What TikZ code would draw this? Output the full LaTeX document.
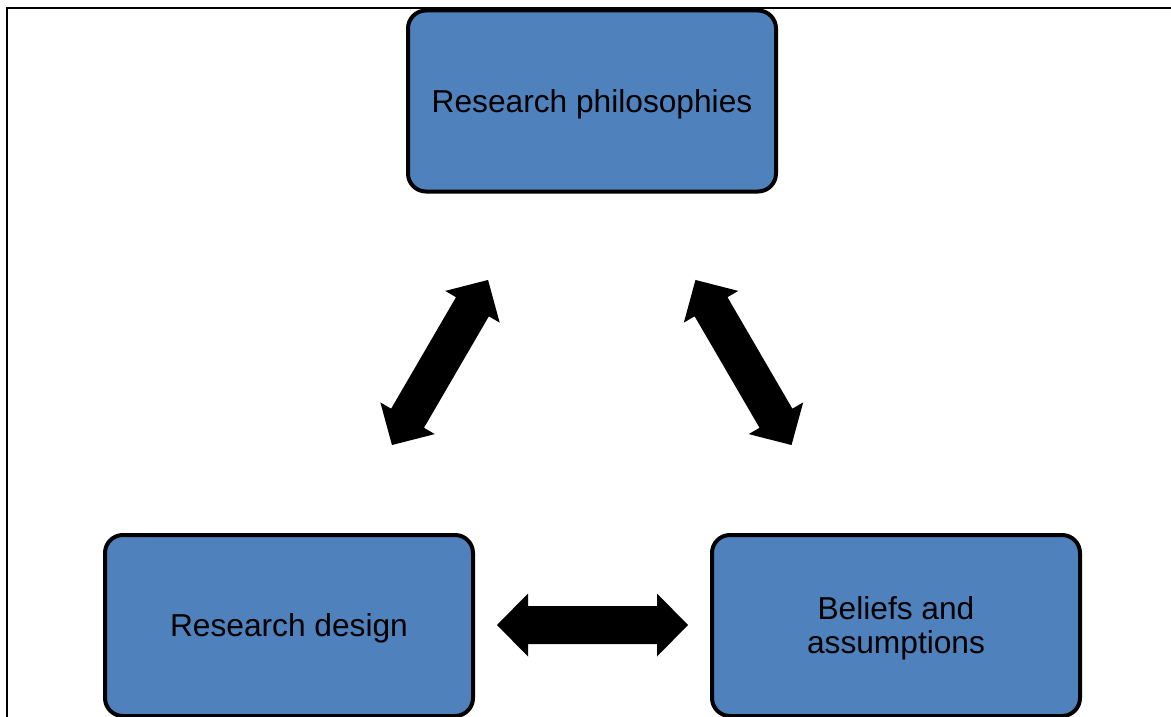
\documentclass[tikz,border=0pt]{standalone}
\usepackage{fontspec}
\setmainfont{Liberation Sans}
\definecolor{boxblue}{RGB}{79,129,189}
\tikzset{
  topicbox/.style={draw=black, line width=4pt, fill=boxblue, rounded corners=18pt,
    minimum width=368pt, minimum height=181pt, inner sep=0pt, align=center,
    text depth=0pt, font=\fontsize{31.7}{34}\selectfont},
  dblarrow/.pic={
    \fill[black] (-95.5,0) -- (-64.5,31.5) -- (-64.5,19) -- (64.5,19) -- (64.5,31.5)
      -- (95.5,0) -- (64.5,-31.5) -- (64.5,-19) -- (-64.5,-19) -- (-64.5,-31.5) -- cycle;
  }
}
\begin{document}
\begin{tikzpicture}[x=1pt,y=1pt]
  % page area
  \clip (0,0) rectangle (1171,-717);
  \fill[white] (0,0) rectangle (1171,-717);
  % frame lines along the top and left
  \draw[line width=1.5pt] (7,-730) -- (7,-8) -- (1180,-8);

  % the three topics
  \node[topicbox] (phil) at (592,-101) {Research philosophies};
  \node[topicbox] (design) at (289,-625.5) {Research design};
  \node[topicbox] (beliefs) at (896,-625.5) {Beliefs and\\assumptions};

  % two-headed block arrows between the topics
  \pic[rotate=59.8] at (440,-362.5) {dblarrow};
  \pic[rotate=120.2] at (743.5,-362.5) {dblarrow};
  \pic at (592.5,-625) {dblarrow};
\end{tikzpicture}
\end{document}
